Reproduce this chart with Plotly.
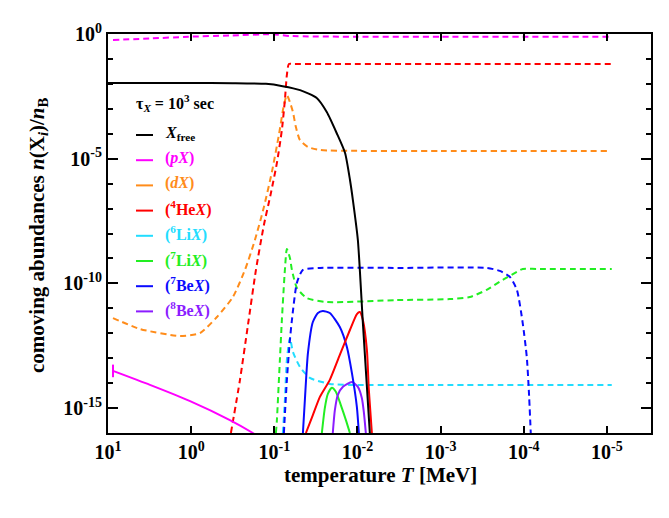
import plotly.graph_objects as go

# Readings from the reference chart (temperature in MeV, abundance n(X_i)/n_B)

# X_free (black, solid)
T_free = [10.0, 1.0, 0.316, 0.126, 0.0794, 0.049, 0.0309, 0.0234, 0.0178, 0.0141,
          0.0123, 0.01135, 0.00989, 0.00861, 0.0071, 0.0068]
Y_free = [1.08e-2, 1.08e-2, 1.07e-2, 1.0e-2, 8.1e-3, 5.6e-3, 2.7e-3, 7.4e-4, 1.07e-4, 1.7e-5,
          1.4e-6, 2.2e-7, 5.5e-9, 2.6e-12, 1e-16, 1e-17]

# (pX) dashed and solid
T_pX_dash = [8.71, 3.13, 1.09, 0.342, 0.104, 0.0649, 0.01, 1e-3, 9.0e-6]
Y_pX_dash = [0.575, 0.66, 0.776, 0.871, 0.977, 0.832, 0.776, 0.776, 0.776]
T_pX_solid = [8.71, 3.13, 1.03, 0.342, 0.1807, 0.149]
Y_pX_solid = [3.09e-14, 8.5e-15, 1.9e-15, 3.3e-16, 1e-16, 6.6e-17]

# (dX) dashed
T_dX_dash = [8.71, 4.12, 1.365, 0.783, 0.490, 0.315, 0.2254, 0.171, 0.1334, 0.1069,
             0.0881, 0.0767, 0.0706, 0.0649, 0.0597, 0.0550, 0.0492, 0.0394, 0.0283, 0.01,
             1e-3, 9.0e-6]
Y_dX_dash = [4.07e-12, 1.48e-12, 7.76e-13, 1.02e-12, 4.47e-12, 2.82e-11, 3.47e-10, 5.5e-9, 1.15e-7, 2.95e-6,
             8.9e-5, 1.41e-3, 3.55e-3, 1.86e-3, 7.4e-4, 1.86e-4, 5.6e-5, 2.95e-5, 2.24e-5, 2.06e-5,
             2.04e-5, 2.04e-5]

# (4HeX) dashed and solid
T_He4_dash = [0.3327, 0.2588, 0.2075, 0.1663, 0.1334, 0.1099, 0.0931, 0.0811, 0.0746, 0.0706,
              0.0668, 0.06, 0.02, 1e-3, 9.0e-6]
Y_He4_dash = [1e-16, 1.35e-14, 2.14e-12, 3.47e-10, 2.19e-8, 4.17e-7, 6.76e-6, 1.41e-4, 2.24e-3, 2.29e-2,
              6.3e-2, 6.3e-2, 6.3e-2, 6.3e-2, 6.3e-2]
T_He4_solid = [0.0417, 0.0344, 0.0283, 0.0215, 0.0163, 0.01233, 0.01016, 0.00935, 0.00861, 0.0077,
               0.0073, 0.00671]
Y_He4_solid = [1e-16, 5.2e-16, 2.8e-15, 1.35e-14, 1.35e-13, 1.35e-12, 5.9e-12, 7.1e-12, 3.4e-12, 2.14e-13,
               5.4e-15, 1e-16]

# (6LiX) dashed
T_Li6_dash = [0.0789, 0.0746, 0.0706, 0.0649, 0.0597, 0.0492, 0.0373, 0.0215, 0.01233, 1e-3, 8.75e-6]
Y_Li6_dash = [1e-16, 2.1e-15, 8.5e-14, 6.5e-13, 1.78e-13, 4.5e-14, 1.62e-14, 9.3e-15, 8.5e-15, 8.5e-15, 8.5e-15]

# (7LiX) dashed and solid
T_Li7_dash = [0.0957, 0.0931, 0.0857, 0.0811, 0.0746, 0.0706, 0.0649, 0.0614, 0.0535, 0.0406,
              0.0233, 0.00336, 7.74e-4, 4.46e-4, 2.79e-4, 1.79e-4, 1.21e-4, 1.03e-4, 6.98e-5, 8.75e-6]
Y_Li7_dash = [1e-16, 3.3e-16, 8.5e-14, 3.4e-12, 3.47e-10, 2.4e-9, 1.05e-9, 3.47e-10, 6.6e-11, 2.57e-11,
              1.78e-11, 2.14e-11, 2.34e-11, 2.82e-11, 5.5e-11, 1.38e-10, 2.88e-10, 3.8e-10, 3.8e-10, 3.8e-10]
T_Li7_solid = [0.0268, 0.0247, 0.0227, 0.0203, 0.0182, 0.01585, 0.01377, 0.01233]
Y_Li7_solid = [1e-16, 1e-15, 3.7e-15, 6.5e-15, 4.5e-15, 1.32e-15, 3.3e-16, 1e-16]

# (7BeX) dashed and solid
T_Be7_dash = [0.0767, 0.0706, 0.0649, 0.0614, 0.0535, 0.0453, 0.0283, 3e-3, 2.79e-4, 1.94e-4,
              1.47e-4, 1.21e-4, 1.03e-4, 9.2e-5, 8.7e-5, 8.24e-5]
Y_Be7_dash = [1e-16, 1.35e-14, 5.4e-13, 3.4e-12, 1.05e-10, 3.47e-10, 4.17e-10, 4.17e-10, 4.17e-10, 3.16e-10,
              1.82e-10, 5.5e-11, 2.57e-12, 1.12e-13, 5.4e-15, 1e-16]
T_Be7_solid = [0.0453, 0.0429, 0.0394, 0.0344, 0.0299, 0.0261, 0.0215, 0.0163, 0.0134, 0.01167,
               0.01016, 0.00962]
Y_Be7_solid = [1e-16, 2.1e-15, 1.62e-13, 2.82e-12, 6.5e-12, 7.8e-12, 6.5e-12, 1.78e-12, 2.82e-13, 2.57e-14,
               1.1e-15, 1e-16]

# (8BeX) solid
T_Be8_solid = [0.0198, 0.0187, 0.0172, 0.01496, 0.01167, 0.00989, 0.00885, 0.00838, 0.00793]
Y_Be8_solid = [1e-16, 8.3e-16, 3.4e-15, 7.1e-15, 1.12e-14, 7.1e-15, 2.5e-15, 6.9e-16, 1e-16]

legend_names = ['<i>X</i><sub>free</sub>', '(<i>pX</i>)', '(<i>dX</i>)', '(<sup>4</sup>He<i>X</i>)',
                '(<sup>6</sup>Li<i>X</i>)', '(<sup>7</sup>Li<i>X</i>)', '(<sup>7</sup>Be<i>X</i>)',
                '(<sup>8</sup>Be<i>X</i>)']
colors = ['#000000', '#ff00ff', '#ff8c1a', '#ff0000', '#22ddff', '#22ee22', '#0a0aff', '#8b1cff']

x_ticks = [10, 1, 0.1, 0.01, 1e-3, 1e-4, 1e-5]
x_tick_text = ['10<sup>1</sup>', '10<sup>0</sup>', '10<sup>-1</sup>', '10<sup>-2</sup>',
               '10<sup>-3</sup>', '10<sup>-4</sup>', '10<sup>-5</sup>']
y_ticks = [1, 1e-5, 1e-10, 1e-15]
y_tick_text = ['10<sup>0</sup>', '10<sup>-5</sup>', '10<sup>-10</sup>', '10<sup>-15</sup>']
y_minor = [10.0 ** -k for k in range(17)]

FONT = 'Liberation Serif'
W, H = 669, 518
L, R, T, B = 100, 26, 26, 93
PAGE_OFF = 8  # the page body margin shifts the figure by 8px

fig = go.Figure()

def add_curve(x, y, color, dash):
    fig.add_trace(go.Scatter(
        x=x, y=y, mode='lines', showlegend=False, hoverinfo='skip',
        line=dict(color=color, width=2, dash='6px,4px' if dash else 'solid',
                  shape='spline', smoothing=0.6)))

add_curve(T_pX_dash, Y_pX_dash, colors[1], True)
add_curve(T_dX_dash, Y_dX_dash, colors[2], True)
add_curve(T_He4_dash, Y_He4_dash, colors[3], True)
add_curve(T_Li6_dash, Y_Li6_dash, colors[4], True)
add_curve(T_Li7_dash, Y_Li7_dash, colors[5], True)
add_curve(T_Be7_dash, Y_Be7_dash, colors[6], True)
add_curve(T_pX_solid, Y_pX_solid, colors[1], False)
add_curve(T_Li7_solid, Y_Li7_solid, colors[5], False)
add_curve(T_Be8_solid, Y_Be8_solid, colors[7], False)
add_curve(T_Be7_solid, Y_Be7_solid, colors[6], False)
add_curve(T_He4_solid, Y_He4_solid, colors[3], False)
add_curve(T_free, Y_free, colors[0], False)

# little cap at the start of the (pX) solid line
fig.add_trace(go.Scatter(
    x=T_pX_solid[:1], y=Y_pX_solid[:1], mode='markers', showlegend=False, hoverinfo='skip',
    marker=dict(symbol='line-ns', size=9, line=dict(color=colors[1], width=2))))

# screen pixel positions -> paper coordinates
def px(xp):
    return (xp - PAGE_OFF - L) / (W - L - R)

def py(yp):
    return (H - B - (yp - PAGE_OFF)) / (H - T - B)

# hand-made legend (short line swatches + coloured labels)
fig.add_annotation(x=px(134), y=py(103), xref='paper', yref='paper', xanchor='left', yanchor='middle',
                   text='<b>τ<sub><i>X</i></sub> = 10<sup>3</sup> sec</b>', showarrow=False,
                   font=dict(family=FONT, size=16, color='black'))
for i, (name, c) in enumerate(zip(legend_names, colors)):
    yc = 133 + 25.2 * i
    fig.add_shape(type='line', xref='paper', yref='paper', x0=px(136), x1=px(153), y0=py(yc + 2), y1=py(yc + 2),
                  line=dict(color=c, width=2))
    fig.add_annotation(x=px(163), y=py(yc), xref='paper', yref='paper', xanchor='left', yanchor='middle',
                       text='<b>' + name + '</b>', showarrow=False,
                       font=dict(family=FONT, size=16, color=c))

# axis titles
fig.add_annotation(x=px(380), y=py(475), xref='paper', yref='paper', xanchor='center', yanchor='middle',
                   text='<b>temperature <i>T</i> [MeV]</b>', showarrow=False,
                   font=dict(family=FONT, size=21, color='black'))
fig.add_annotation(x=px(38), y=py(235), xref='paper', yref='paper', xanchor='center', yanchor='middle',
                   text='<b>comoving abundances <i>n</i>(X<sub><i>i</i></sub>)/<i>n</i><sub>B</sub></b>',
                   textangle=-90, showarrow=False, font=dict(family=FONT, size=21, color='black'))

axis_common = dict(showline=True, linewidth=2, linecolor='black', mirror='allticks', ticks='inside',
                   tickwidth=2, tickcolor='black', showgrid=False, zeroline=False,
                   tickfont=dict(family=FONT, size=20, color='black', weight='bold'))

fig.update_xaxes(type='log', range=[1, -5.53], tickvals=x_ticks, ticktext=x_tick_text, ticklen=7,
                 **axis_common)
fig.update_yaxes(type='log', range=[-16, 0], tickvals=y_ticks, ticktext=y_tick_text, ticklen=10,
                 minor=dict(tickvals=y_minor, ticklen=5, tickwidth=2, ticks='inside', tickcolor='black'),
                 **axis_common)

fig.update_layout(width=W, height=H, autosize=False, margin=dict(l=L, r=R, t=T, b=B),
                  plot_bgcolor='white', paper_bgcolor='white', showlegend=False,
                  font=dict(family=FONT, color='black'))

fig.write_html("out.html")
